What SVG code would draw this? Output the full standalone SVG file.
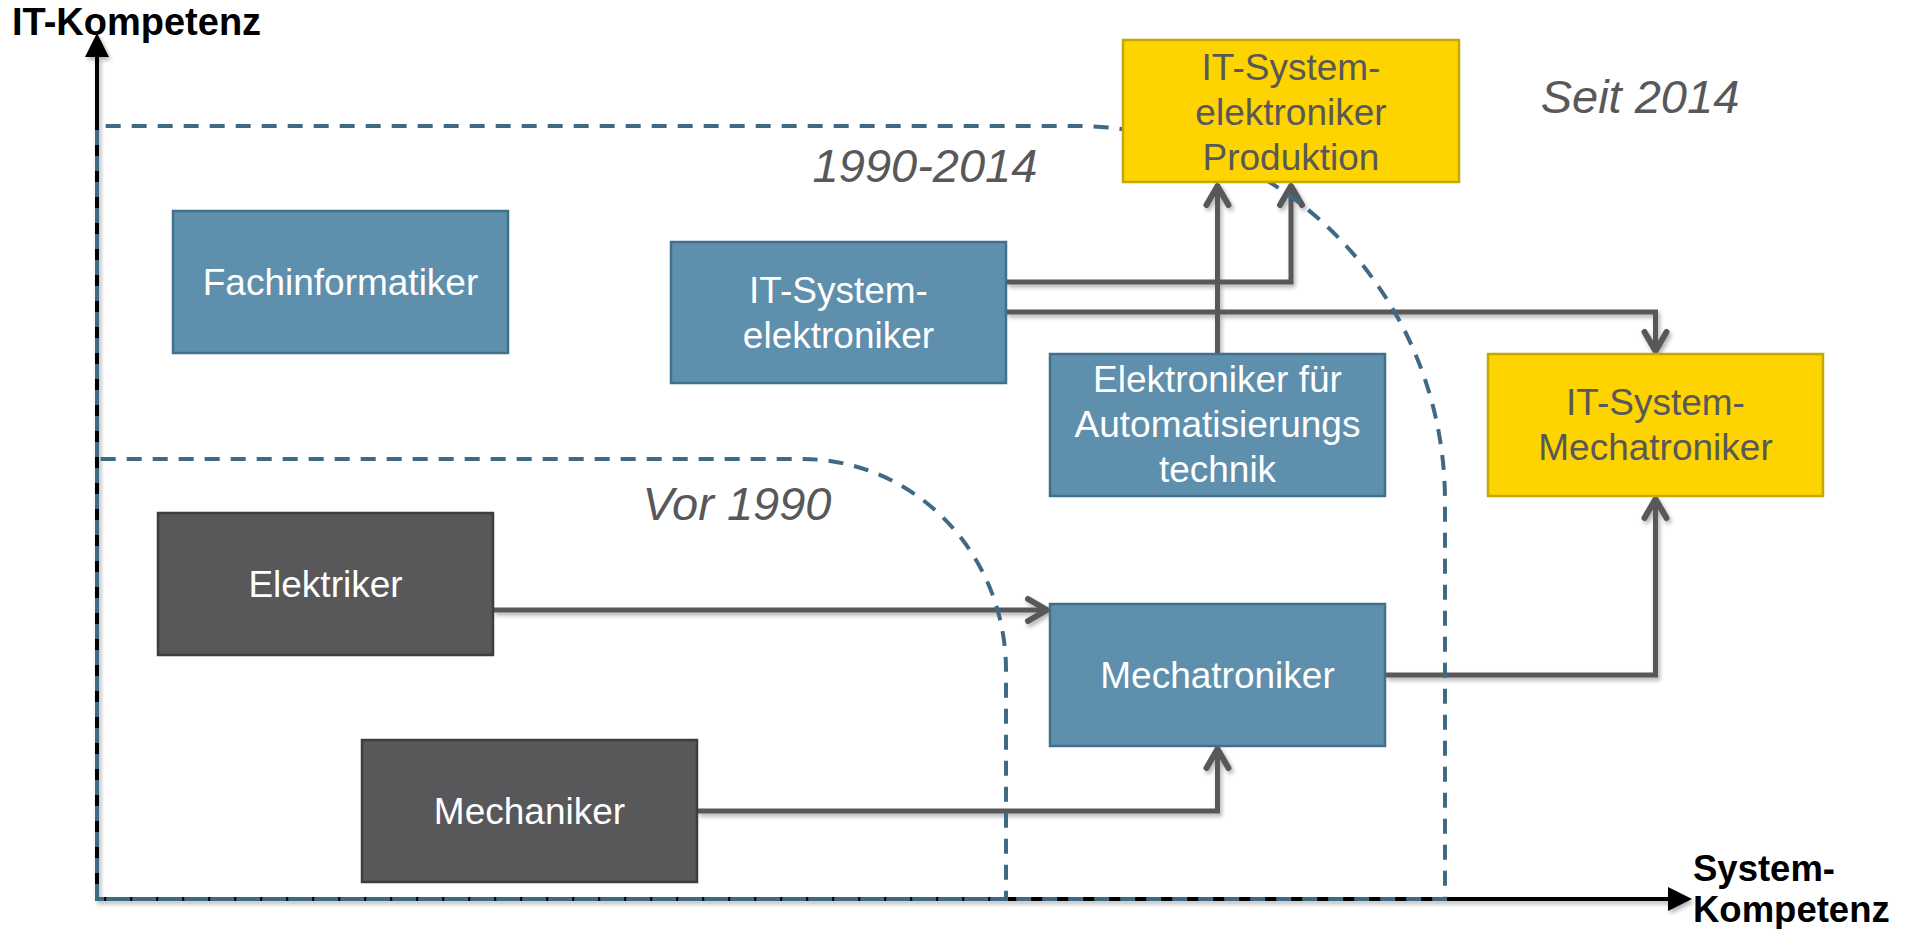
<svg xmlns="http://www.w3.org/2000/svg" width="1910" height="929" viewBox="0 0 1910 929">
<style>
.box text{font-family:"Liberation Sans",Arial,sans-serif;font-size:37px;text-anchor:middle}
.blue rect{fill:#5e8fad;stroke:#41708c;stroke-width:2.5}
.blue text,.dark text{fill:#ffffff}
.dark rect{fill:#58585a;stroke:#3e3e40;stroke-width:2.5}
.yellow rect{fill:#fdd300;stroke:#c7a800;stroke-width:2.5}
.yellow text{fill:#58585a}
.era{font-family:"Liberation Sans",Arial,sans-serif;font-size:47px;font-style:italic;fill:#58585a;text-anchor:middle}
.axlabel{font-family:"Liberation Sans",Arial,sans-serif;font-size:36.5px;font-weight:bold;fill:#000000}
.conn path{fill:none;stroke:#58585a;stroke-width:5;stroke-linejoin:miter;marker-end:url(#arr)}
.region{fill:none;stroke:#3f6a85;stroke-width:4;stroke-dasharray:15 11}
</style>
<defs>
<filter id="sh" x="-5%" y="-5%" width="110%" height="110%">
<feGaussianBlur in="SourceAlpha" stdDeviation="2"/>
<feOffset dx="2" dy="3" result="b"/>
<feComponentTransfer><feFuncA type="linear" slope="0.3"/></feComponentTransfer>
<feMerge><feMergeNode/><feMergeNode in="SourceGraphic"/></feMerge>
</filter>
<marker id="arr" markerUnits="userSpaceOnUse" markerWidth="40" markerHeight="40" viewBox="-30 -20 40 40" refX="0" refY="0" orient="auto" overflow="visible">
<path d="M-19,-11 L0,0 L-19,11" fill="none" stroke="#58585a" stroke-width="6" stroke-linecap="round" stroke-linejoin="round"/>
</marker>
<marker id="axarr" markerUnits="userSpaceOnUse" markerWidth="30" markerHeight="30" viewBox="-2 -10 20 20" refX="0" refY="0" orient="auto-start-reverse" overflow="visible">
<path d="M0,-8 L16,0 L0,8 Z" fill="#000000"/>
</marker>
</defs>
<rect width="1910" height="929" fill="#ffffff"/>

<g id="axes" filter="url(#sh)">
<path d="M97,57 L97,899 L1668,899" fill="none" stroke="#000000" stroke-width="4" marker-start="url(#axarr)" marker-end="url(#axarr)"/>
</g>
<text class="axlabel" x="12" y="35" style="font-size:38px">IT-Kompetenz</text>
<text class="axlabel" x="1693" y="881">System-</text>
<text class="axlabel" x="1693" y="922">Kompetenz</text>

<g id="connectors" class="conn" filter="url(#sh)">
<path d="M493,610 L1047,610"/>
<path d="M697,811 L1217.5,811 L1217.5,749"/>
<path d="M1385,675 L1655.5,675 L1655.5,499"/>
<path d="M1006,282 L1291,282 L1291,186"/>
<path d="M1006,312 L1655.5,312 L1655.5,351"/>
<path d="M1217.5,354 L1217.5,186"/>
</g>

<g id="regions">
<path class="region" d="M97,899 L97,130 Q97,126 101,126 L1075,126 A370,375 0 0 1 1445,501 L1445,899 Z"/>
<path class="region" d="M97,899 L97,463 Q97,459 101,459 L802,459 A204,211 0 0 1 1006,670 L1006,899 Z"/>
</g>

<text class="era" x="1640" y="113">Seit 2014</text>
<text class="era" x="925" y="182">1990-2014</text>
<text class="era" x="737" y="520">Vor 1990</text>

<g id="fachinformatiker" class="box blue">
<rect x="173" y="211" width="335" height="142"/>
<text x="340.5" y="295">Fachinformatiker</text>
</g>
<g id="it-systemelektroniker" class="box blue">
<rect x="671" y="242" width="335" height="141"/>
<text x="838.5" y="303">IT-System-</text>
<text x="838.5" y="348">elektroniker</text>
</g>
<g id="it-systemelektroniker-produktion" class="box yellow">
<rect x="1123" y="40" width="336" height="142"/>
<text x="1291" y="80">IT-System-</text>
<text x="1291" y="125">elektroniker</text>
<text x="1291" y="170">Produktion</text>
</g>
<g id="elektroniker-automatisierung" class="box blue">
<rect x="1050" y="354" width="335" height="142"/>
<text x="1217.5" y="392">Elektroniker für</text>
<text x="1217.5" y="437">Automatisierungs</text>
<text x="1217.5" y="482">technik</text>
</g>
<g id="it-system-mechatroniker" class="box yellow">
<rect x="1488" y="354" width="335" height="142"/>
<text x="1655.5" y="415">IT-System-</text>
<text x="1655.5" y="460">Mechatroniker</text>
</g>
<g id="elektriker" class="box dark">
<rect x="158" y="513" width="335" height="142"/>
<text x="325.5" y="597">Elektriker</text>
</g>
<g id="mechatroniker" class="box blue">
<rect x="1050" y="604" width="335" height="142"/>
<text x="1217.5" y="688">Mechatroniker</text>
</g>
<g id="mechaniker" class="box dark">
<rect x="362" y="740" width="335" height="142"/>
<text x="529.5" y="824">Mechaniker</text>
</g>
</svg>
